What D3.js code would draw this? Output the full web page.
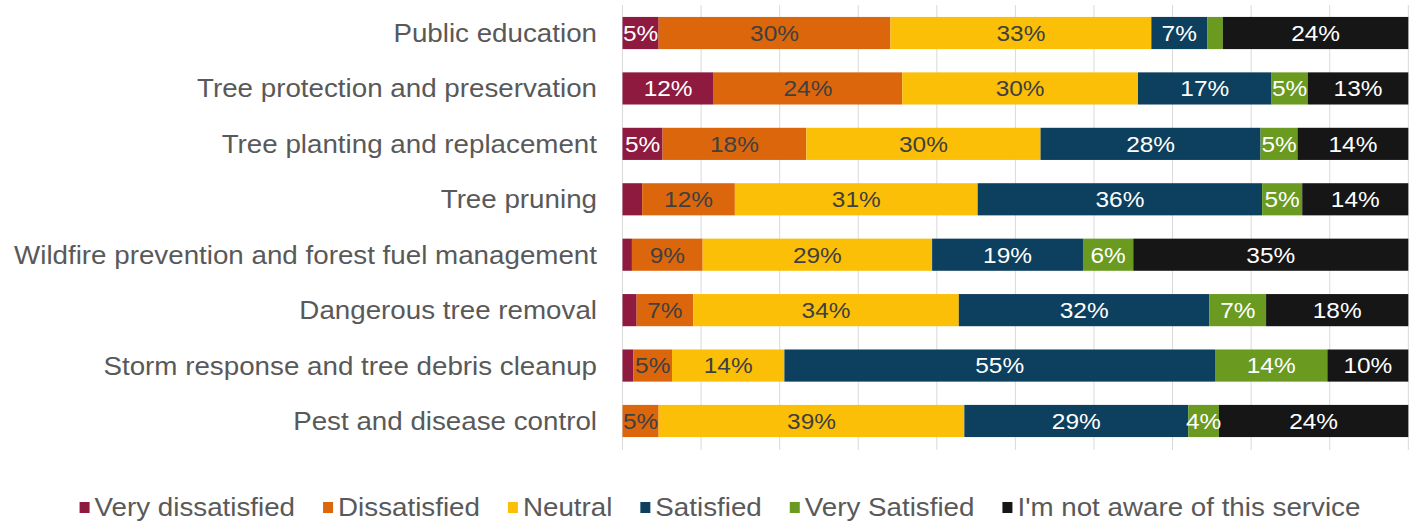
<!DOCTYPE html>
<html>
<head>
<meta charset="utf-8">
<script src="https://cdn.jsdelivr.net/npm/d3@7"></script>
<style>
  body { margin: 0; background: #fff; }
  svg { display: block; font-family: "Liberation Sans", Arial, sans-serif; }
</style>
</head>
<body>
<svg id="canvas"></svg>
<script>
// categories, top to bottom
const categories = [
  "Public education",
  "Tree protection and preservation",
  "Tree planting and replacement",
  "Tree pruning",
  "Wildfire prevention and forest fuel management",
  "Dangerous tree removal",
  "Storm response and tree debris cleanup",
  "Pest and disease control"
]

const seriesNames = ["Very dissatisfied", "Dissatisfied", "Neutral", "Satisfied", "Very Satisfied", "I'm not aware of this service"]
const seriesColors = ["#8e1b3f", "#dc660c", "#fbbf07", "#0d3f5e", "#6a9a1f", "#161616"]
const labelColors = ["#ffffff", "#404040", "#404040", "#ffffff", "#ffffff", "#ffffff"]

// percentages
const veryDissatisfied = [4.6, 11.6, 5.1, 2.5, 1.2, 1.8, 1.4, 0]
const dissatisfied     = [29.5, 24.0, 18.3, 11.8, 9.0, 7.2, 4.9, 4.6]
const neutral          = [33.2, 30.0, 29.8, 30.9, 29.2, 33.8, 14.3, 38.9]
const satisfied        = [7.1, 17.0, 28.0, 36.2, 19.2, 31.9, 54.8, 28.5]
const verySatisfied    = [2.0, 4.6, 4.7, 5.1, 6.4, 7.2, 14.3, 3.9]
const notAware         = [23.6, 12.8, 14.1, 13.5, 35.0, 18.1, 10.3, 24.1]

const gridTicks = [0, 10, 20, 30, 40, 50, 60, 70, 80, 90, 100]

const width = 1418
const height = 523
const sx = 1.11 // the source text is a bit stretched sideways

const allSeries = [veryDissatisfied, dissatisfied, neutral, satisfied, verySatisfied, notAware]
const table = categories.map((c, i) => {
  const row = { category: c }
  seriesNames.forEach((s, j) => { row[s] = allSeries[j][i] })
  return row
})

const canvas = d3.select("#canvas")
  .attr("width", width)
  .attr("height", height)

const xScale = d3.scaleLinear()
  .domain([0, 100])
  .range([622.5, 1408.3])

const yScale = d3.scaleBand()
  .domain(categories)
  .range([5.3, 448.7])
  .paddingInner(0.42)
  .paddingOuter(0.21)

// gridlines
canvas.append("g")
  .selectAll("line")
  .data(gridTicks)
  .enter()
  .append("line")
  .attr("x1", d => xScale(d))
  .attr("x2", d => xScale(d))
  .attr("y1", 5)
  .attr("y2", 450)
  .attr("stroke", "#d9d9d9")
  .attr("stroke-width", 1)

const stacked = d3.stack().keys(seriesNames)(table)

const layers = canvas.append("g")
  .selectAll("g")
  .data(stacked)
  .enter()
  .append("g")
  .attr("fill", (d, i) => seriesColors[i])

layers.selectAll("rect")
  .data(d => d)
  .enter()
  .append("rect")
  .attr("x", d => xScale(d[0]))
  .attr("width", d => xScale(d[1]) - xScale(d[0]))
  .attr("y", d => yScale(d.data.category))
  .attr("height", yScale.bandwidth())

// value labels
stacked.forEach((layer, i) => {
  canvas.append("g")
    .selectAll("text")
    .data(layer.filter(d => Math.round(d[1] - d[0]) >= 4))
    .enter()
    .append("text")
    .attr("transform", d => `translate(${xScale((d[0] + d[1]) / 2)},${yScale(d.data.category) + yScale.bandwidth() / 2}) scale(${sx},1)`)
    .attr("text-anchor", "middle")
    .attr("dy", "0.36em")
    .attr("font-size", 22)
    .attr("fill", labelColors[i])
    .text(d => Math.round(d[1] - d[0]) + "%")
})

// category labels
canvas.append("g")
  .selectAll("text")
  .data(categories)
  .enter()
  .append("text")
  .attr("transform", d => `translate(597,${yScale(d) + yScale.bandwidth() / 2}) scale(${sx},1)`)
  .attr("text-anchor", "end")
  .attr("dy", "0.36em")
  .attr("font-size", 25)
  .attr("fill", "#595959")
  .text(d => d)

// legend
const legend = canvas.append("g")
const items = legend.selectAll("g")
  .data(seriesNames)
  .enter()
  .append("g")

items.append("rect")
  .attr("width", 10)
  .attr("height", 11)
  .attr("y", 502)
  .attr("fill", (d, i) => seriesColors[i])

items.append("text")
  .attr("transform", `translate(15,516) scale(${sx},1)`)
  .attr("font-size", 25)
  .attr("fill", "#595959")
  .text(d => d)

let offsets = []
let cursor = 0
items.each(function () {
  offsets.push(cursor)
  const w = this.querySelector("text").getComputedTextLength() * sx
  cursor += 15 + w + 28
})
const total = cursor - 28
const startX = 720 - total / 2
items.attr("transform", (d, i) => `translate(${startX + offsets[i]},0)`)
</script>
</body>
</html>
